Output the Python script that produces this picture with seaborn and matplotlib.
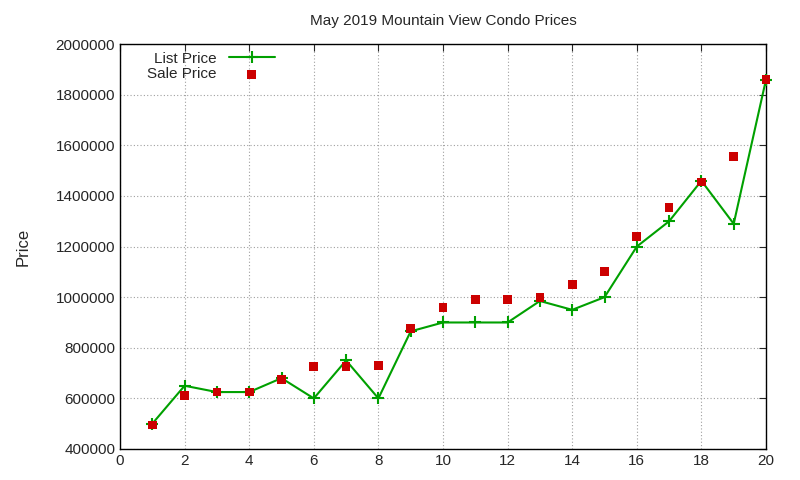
import matplotlib
matplotlib.use("Agg")
import matplotlib.pyplot as plt
import seaborn as sns
import pandas as pd

units = list(range(1, 21))
list_price = [500000, 650000, 625000, 625000, 680000, 600000, 750000, 600000, 865000, 900000,
              900000, 900000, 985000, 950000, 1000000, 1200000, 1300000, 1460000, 1290000, 1860000]
sale_price = [495000, 610000, 625000, 625000, 675000, 725000, 725000, 730000, 875000, 960000,
              990000, 990000, 1000000, 1050000, 1100000, 1240000, 1355000, 1455000, 1555000, 1860000]
df = pd.DataFrame({"n": units, "list": list_price, "sale": sale_price})

sns.set_style("white")
plt.rcParams['font.family'] = ['Liberation Sans', 'DejaVu Sans']
fig = plt.figure(figsize=(8, 4.8), dpi=100)
ax = fig.add_axes([0.15, 0.0646, 0.8075, 0.8434])

sns.lineplot(data=df, x="n", y="list", ax=ax, color="#00a000", marker="+", markersize=8,
             markeredgewidth=1.5, markeredgecolor="#00a000", linewidth=1.5,
             label="List Price", zorder=3, clip_on=False)
sns.scatterplot(data=df, x="n", y="sale", ax=ax, color="#cc0000", marker="s", s=40,
                edgecolor="none", label="Sale Price", zorder=4, clip_on=False)

ax.set_xlim(0, 20)
ax.set_ylim(400000, 2000000)
ax.set_xticks(range(0, 21, 2))
ax.set_yticks(range(400000, 2000001, 200000))
ax.ticklabel_format(style='plain', axis='y')
ax.grid(True, color="#a0a0a0", linestyle=(0, (1, 2)), linewidth=0.8)
ax.tick_params(direction="in", length=5, labelsize=11, top=True, right=True)
for s in ax.spines.values():
    s.set_color("black"); s.set_linewidth(1)
ax.set_xlabel("")
ax.set_ylabel("Price", fontsize=12, labelpad=18)
ax.set_title("May 2019 Mountain View Condo Prices", fontsize=11, pad=14)
leg = ax.legend(loc="upper left", markerfirst=False, frameon=False, fontsize=11,
                handlelength=3, borderaxespad=0.1, bbox_to_anchor=(0.03, 1.0),
                labelspacing=0.1)
fig.savefig("out.png", dpi=100)
